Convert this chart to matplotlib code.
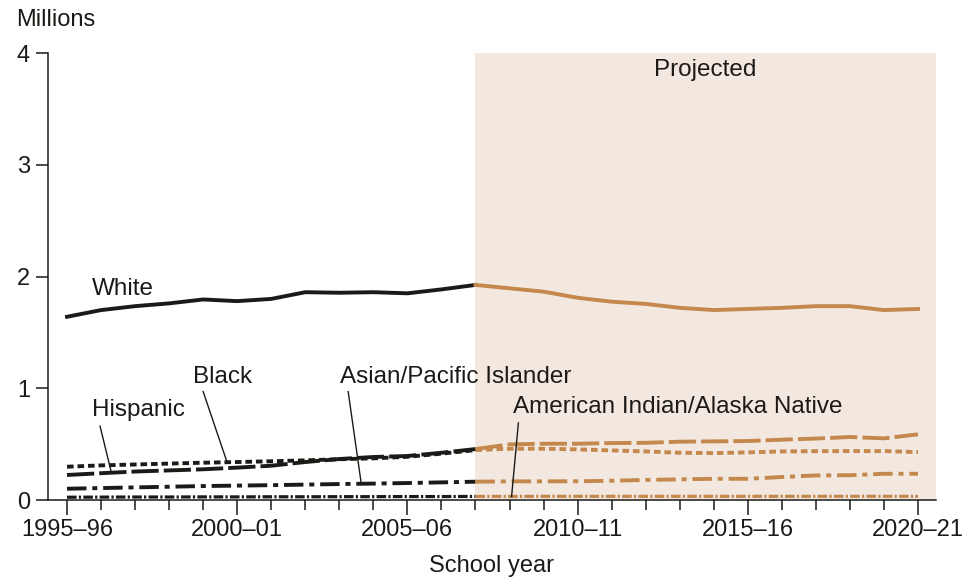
import numpy as np
import matplotlib.pyplot as plt

plt.rcParams['font.family'] = ['Liberation Sans', 'DejaVu Sans']

# school years 1995-96 .. 2020-21, projections from 2007-08 on
years = ['1995–96', '1996–97', '1997–98', '1998–99', '1999–2000', '2000–01',
         '2001–02', '2002–03', '2003–04', '2004–05', '2005–06', '2006–07',
         '2007–08', '2008–09', '2009–10', '2010–11', '2011–12', '2012–13',
         '2013–14', '2014–15', '2015–16', '2016–17', '2017–18', '2018–19',
         '2019–20', '2020–21']
proj_start = 12
tick_years = ['1995–96', '2000–01', '2005–06', '2010–11', '2015–16', '2020–21']

white = [1.64, 1.70, 1.735, 1.76, 1.795, 1.78, 1.80, 1.86, 1.855, 1.86, 1.85,
         1.885, 1.925, 1.895, 1.865, 1.81, 1.775, 1.755, 1.72, 1.70, 1.71,
         1.72, 1.735, 1.735, 1.70, 1.71]
black = [0.298, 0.31, 0.318, 0.326, 0.334, 0.34, 0.347, 0.355, 0.365, 0.373,
         0.387, 0.415, 0.447, 0.459, 0.459, 0.453, 0.444, 0.435, 0.423, 0.42,
         0.426, 0.435, 0.437, 0.438, 0.438, 0.429]
hispanic = [0.224, 0.24, 0.255, 0.265, 0.275, 0.29, 0.307, 0.34, 0.367, 0.385,
            0.394, 0.423, 0.456, 0.498, 0.504, 0.504, 0.51, 0.512, 0.522, 0.525,
            0.528, 0.54, 0.55, 0.564, 0.552, 0.588]
asian = [0.101, 0.107, 0.113, 0.119, 0.125, 0.129, 0.133, 0.138, 0.143, 0.147,
         0.152, 0.158, 0.164, 0.167, 0.167, 0.168, 0.172, 0.18, 0.185, 0.19,
         0.19, 0.206, 0.22, 0.222, 0.235, 0.235]
amind = [0.025, 0.026, 0.027, 0.027, 0.028, 0.028, 0.029, 0.029, 0.030, 0.030,
         0.031, 0.031, 0.032, 0.032, 0.033, 0.033, 0.033, 0.033, 0.033, 0.033,
         0.033, 0.033, 0.033, 0.033, 0.033, 0.033]

hist_color = '#1c1a17'
proj_color = '#c4884c'
shade_color = '#f3e8e0'

styles = {
    'white': (white, '-', 2.8),
    'black': (black, (0, (1.7, 1.0)), 2.8),
    'hispanic': (hispanic, (0, (7.0, 1.3)), 2.8),
    'asian': (asian, (0, (5.0, 1.5, 1.3, 1.5)), 2.8),
    'amind': (amind, (0, (3.0, 0.7, 0.7, 0.7)), 2.3),
}

fig = plt.figure(figsize=(9.63, 5.84), dpi=100)
ax = fig.add_axes([0.0498, 0.1438, 0.9222, 0.7653])

x = np.arange(len(years))
ax.axvspan(proj_start, len(years) - 0.47, color=shade_color, zorder=0, lw=0)

for name, (vals, ls, lw) in styles.items():
    vals = np.array(vals)
    ax.plot(x[:proj_start + 1], vals[:proj_start + 1], color=hist_color,
            ls=ls, lw=lw, zorder=3)
    ax.plot(x[proj_start:], vals[proj_start:], color=proj_color,
            ls=ls, lw=lw, zorder=3)

ax.set_xlim(-0.56, len(years) - 0.47)
ax.set_ylim(0, 4)

for s in ['top', 'right']:
    ax.spines[s].set_visible(False)
ax.spines['left'].set_linewidth(1.1)
ax.spines['bottom'].set_linewidth(1.1)
ax.spines['left'].set_color(hist_color)
ax.spines['bottom'].set_color(hist_color)

ax.set_yticks([0, 1, 2, 3, 4])
ax.tick_params(axis='y', direction='out', length=9, width=1.1, pad=4,
               labelsize=17, colors=hist_color)
major = [years.index(t) for t in tick_years]
ax.set_xticks(major)
ax.set_xticklabels(tick_years)
ax.set_xticks(x, minor=True)
ax.tick_params(axis='x', which='major', direction='out', length=11, width=1.1,
               pad=3, labelsize=17, colors=hist_color)
ax.tick_params(axis='x', which='minor', direction='out', length=7, width=1.1,
               colors=hist_color)

ax.set_xlabel('School year', fontsize=17, color=hist_color, labelpad=10)
fig.text(0.017, 0.966, 'Millions', fontsize=17, color=hist_color, va='center')

ax.text(18.74, 3.85, 'Projected', fontsize=17.5, color=hist_color,
        ha='center', va='center')

fs = 17.5
ax.text(0.73, 1.89, 'White', fontsize=fs, color=hist_color, va='center')
ax.text(0.73, 0.81, 'Hispanic', fontsize=fs, color=hist_color, va='center')
ax.text(3.70, 1.10, 'Black', fontsize=fs, color=hist_color, va='center')
ax.text(8.02, 1.10, 'Asian/Pacific Islander', fontsize=fs, color=hist_color,
        va='center')
ax.text(13.1, 0.83, 'American Indian/Alaska Native', fontsize=fs,
        color=hist_color, va='center')

leaders = [((0.97, 0.662), (1.29, 0.262)),
           ((4.0, 0.97), (4.69, 0.349)),
           ((8.26, 0.97), (8.64, 0.155)),
           ((13.26, 0.69), (13.06, 0.03))]
for (x0, y0), (x1, y1) in leaders:
    ax.plot([x0, x1], [y0, y1], color=hist_color, lw=1.0, zorder=4)

fig.savefig('out.png', dpi=100)
